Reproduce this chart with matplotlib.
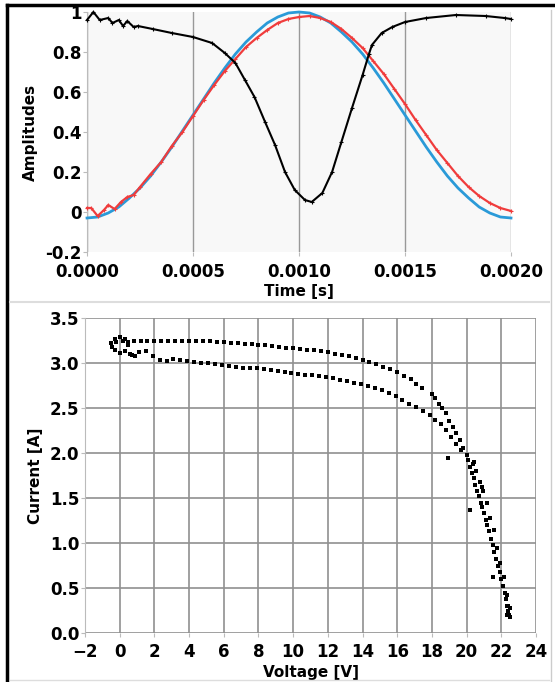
import matplotlib
matplotlib.use("Agg")
import matplotlib.pyplot as plt
from matplotlib.lines import Line2D

plt.rcParams['font.family'] = ['DejaVu Sans']
plt.rcParams['font.weight'] = 'bold'

# top panel: amplitudes vs time
t_fit = [0.0, 0.00005, 0.0001, 0.00015, 0.0002, 0.00025, 0.0003, 0.00035, 0.0004, 0.00045,
         0.0005, 0.00055, 0.0006, 0.00065, 0.0007, 0.00075, 0.0008, 0.00085, 0.0009, 0.00095,
         0.001, 0.00105, 0.0011, 0.00115, 0.0012, 0.00125, 0.0013, 0.00135, 0.0014, 0.00145,
         0.0015, 0.00155, 0.0016, 0.00165, 0.0017, 0.00175, 0.0018, 0.00185, 0.0019, 0.00195, 0.002]
blue = [-0.03, -0.025, -0.005, 0.025, 0.07, 0.12, 0.18, 0.25, 0.325, 0.405,
        0.485, 0.565, 0.645, 0.72, 0.79, 0.85, 0.90, 0.945, 0.975, 0.995,
        1.0, 0.995, 0.975, 0.945, 0.90, 0.85, 0.79, 0.72, 0.645, 0.565,
        0.485, 0.405, 0.325, 0.25, 0.18, 0.12, 0.07, 0.025, -0.005, -0.025, -0.03]

t_red = [0.0, 0.00002, 0.00005, 0.00008, 0.0001, 0.00013, 0.00016, 0.00019, 0.00022, 0.00025,
         0.0003, 0.00035, 0.0004, 0.00045, 0.0005, 0.00055, 0.0006, 0.00065, 0.0007, 0.00075,
         0.0008, 0.00085, 0.0009, 0.00095, 0.001, 0.00105, 0.0011, 0.00115, 0.0012, 0.00125,
         0.0013, 0.00135, 0.0014, 0.00145, 0.0015, 0.00155, 0.0016, 0.00165, 0.0017, 0.00175,
         0.0018, 0.00185, 0.0019, 0.00195, 0.002]
red = [0.02, 0.02, -0.02, 0.01, 0.035, 0.015, 0.05, 0.075, 0.085, 0.125,
       0.19, 0.25, 0.33, 0.40, 0.48, 0.56, 0.635, 0.705, 0.765, 0.825,
       0.87, 0.91, 0.945, 0.965, 0.975, 0.98, 0.97, 0.95, 0.915, 0.87,
       0.82, 0.755, 0.69, 0.615, 0.54, 0.46, 0.385, 0.31, 0.245, 0.18,
       0.125, 0.08, 0.045, 0.02, 0.005]

t_black = [0.0, 0.00003, 0.00006, 0.0001, 0.00012, 0.00015, 0.00017, 0.00019, 0.00022, 0.00024,
           0.00031, 0.0004, 0.0005, 0.00059, 0.00065, 0.0007, 0.000745, 0.00079, 0.00084, 0.000887,
           0.000934, 0.00098, 0.001028, 0.00106, 0.00111, 0.001156, 0.0012, 0.00125, 0.0013, 0.00133,
           0.001344, 0.00139, 0.00144, 0.0015, 0.0016, 0.00174, 0.00188, 0.00197, 0.002]
black = [0.96, 1.0, 0.96, 0.97, 0.945, 0.96, 0.93, 0.955, 0.925, 0.93,
         0.915, 0.895, 0.875, 0.845, 0.795, 0.745, 0.66, 0.575, 0.45, 0.335,
         0.2, 0.11, 0.06, 0.05, 0.095, 0.2, 0.35, 0.52, 0.685, 0.79,
         0.835, 0.895, 0.925, 0.95, 0.97, 0.985, 0.98, 0.97, 0.965]

# bottom panel: I-V scatter (hysteresis loop)
v_loop = [-0.5, -0.3, 0.0, 0.3, 0.45, 0.3, 0.0, -0.3, -0.45, 0.6, 0.9]
i_loop = [3.22, 3.27, 3.29, 3.27, 3.20, 3.13, 3.11, 3.14, 3.18, 3.10, 3.08]

v_up = [-0.2, 0.2, 0.5, 0.8, 1.2, 1.6, 2.0, 2.4, 2.8, 3.2, 3.6, 4.0, 4.4, 4.8, 5.2, 5.6,
        6.0, 6.4, 6.8, 7.2, 7.6, 8.0, 8.4, 8.8, 9.2, 9.6, 10.0, 10.4, 10.8, 11.2, 11.6,
        12.0, 12.4, 12.8, 13.2, 13.6, 14.0, 14.4, 14.8, 15.2, 15.6, 16.0, 16.4, 16.8,
        17.1, 17.4, 18.0, 18.2, 18.4, 18.6, 18.8, 19.0, 19.2, 19.4, 19.6, 19.8, 20.0]
i_up = [3.23, 3.24, 3.23, 3.24, 3.24, 3.25, 3.24, 3.25, 3.25, 3.24, 3.25, 3.25, 3.24,
        3.24, 3.24, 3.23, 3.23, 3.22, 3.22, 3.21, 3.21, 3.20, 3.20, 3.19, 3.18, 3.17,
        3.17, 3.16, 3.15, 3.14, 3.13, 3.12, 3.10, 3.09, 3.08, 3.06, 3.03, 3.01, 2.99,
        2.96, 2.93, 2.90, 2.86, 2.82, 2.77, 2.72, 2.66, 2.61, 2.55, 2.50, 2.44, 2.36,
        2.29, 2.22, 2.14, 2.06, 1.98]

v_low = [0.3, 0.7, 1.1, 1.5, 1.9, 2.3, 2.7, 3.1, 3.5, 3.9, 4.3, 4.7, 5.1, 5.5, 5.9, 6.3,
         6.7, 7.1, 7.5, 7.9, 8.3, 8.7, 9.1, 9.5, 9.9, 10.3, 10.7, 11.1, 11.5, 11.9, 12.3,
         12.7, 13.1, 13.5, 13.9, 14.3, 14.7, 15.1, 15.5, 15.9, 16.3, 16.7, 17.1, 17.5,
         17.9, 18.2, 18.5, 18.8, 19.1, 19.4, 19.7]
i_low = [3.13, 3.09, 3.12, 3.13, 3.08, 3.03, 3.02, 3.04, 3.03, 3.02, 3.01, 3.00, 3.00,
         2.99, 2.98, 2.97, 2.96, 2.95, 2.95, 2.94, 2.93, 2.92, 2.91, 2.90, 2.89, 2.88,
         2.87, 2.87, 2.86, 2.85, 2.83, 2.81, 2.80, 2.78, 2.77, 2.74, 2.72, 2.70, 2.67,
         2.63, 2.59, 2.55, 2.51, 2.47, 2.42, 2.37, 2.32, 2.26, 2.18, 2.10, 2.03]

v_drop = [20.1, 20.2, 20.3, 20.35, 20.4, 20.5, 20.55, 20.6, 20.7, 20.75, 20.8, 20.9, 20.95,
          21.0, 21.1, 21.15, 21.2, 21.3, 21.35, 21.4, 21.5, 21.55, 21.6, 21.7, 21.75, 21.8,
          21.9, 21.95, 22.0, 22.1, 22.15, 22.2, 22.25, 22.3, 22.35, 22.4, 22.45, 22.5, 22.3,
          22.4, 22.5, 18.9, 20.2, 20.9, 21.5, 20.4]
i_drop = [1.92, 1.85, 1.78, 1.88, 1.72, 1.65, 1.80, 1.58, 1.52, 1.68, 1.45, 1.40, 1.58,
          1.33, 1.26, 1.45, 1.20, 1.13, 1.28, 1.05, 0.98, 1.15, 0.90, 0.82, 0.95, 0.75,
          0.68, 0.78, 0.60, 0.52, 0.62, 0.45, 0.38, 0.30, 0.42, 0.25, 0.20, 0.18, 0.20,
          0.30, 0.28, 1.94, 1.37, 1.62, 0.62, 1.90]

fig = plt.figure(figsize=(5.55, 6.82), dpi=100)

ax1 = fig.add_axes([0.1568, 0.6305, 0.7639, 0.3519])
ax1.set_facecolor('#f8f8f8')
ax1.plot(t_fit, blue, color='#2a9ad8', lw=2, clip_on=False, zorder=3)
ax1.plot(t_red, red, color='#f03c3c', lw=1.6, marker='+', ms=3, mew=0.8,
         clip_on=False, zorder=4)
ax1.plot(t_black, black, color='black', lw=1.5, marker='+', ms=3, mew=0.8,
         clip_on=False, zorder=5)
ax1.set_xlim(0, 0.002)
ax1.set_ylim(-0.2, 1.0)
ax1.set_xticks([0.0, 0.0005, 0.001, 0.0015, 0.002])
ax1.set_xticklabels(['0.0000', '0.0005', '0.0010', '0.0015', '0.0020'])
ax1.set_yticks([-0.2, 0, 0.2, 0.4, 0.6, 0.8, 1.0])
ax1.set_yticklabels(['-0.2', '0', '0.2', '0.4', '0.6', '0.8', '1'])
ax1.grid(axis='x', color='#999999', lw=1)
ax1.set_axisbelow(True)
for s in ['top', 'right', 'bottom']:
    ax1.spines[s].set_visible(False)
ax1.spines['left'].set_color('#bbbbbb')
ax1.tick_params(colors='#bbbbbb', labelcolor='black', labelsize=12, length=3, pad=1)
ax1.tick_params(axis='x', pad=5)
ax1.set_xlabel('Time [s]', fontsize=11, fontweight='bold', labelpad=2)
ax1.set_ylabel('Amplitudes', fontsize=11, fontweight='bold', labelpad=5)

ax2 = fig.add_axes([0.1532, 0.0718, 0.8126, 0.4619])
ax2.plot(v_loop, i_loop, 's', color='black', ms=2.2, mew=0, zorder=3)
ax2.plot(v_up, i_up, 's', color='black', ms=2.2, mew=0, zorder=3)
ax2.plot(v_low, i_low, 's', color='black', ms=2.2, mew=0, zorder=3)
ax2.plot(v_drop, i_drop, 's', color='black', ms=2.2, mew=0, zorder=3)
ax2.set_xlim(-2, 24)
ax2.set_ylim(0, 3.5)
ax2.set_xticks(range(-2, 25, 2))
ax2.set_yticks([0.0, 0.5, 1.0, 1.5, 2.0, 2.5, 3.0, 3.5])
ax2.set_yticklabels(['0.0', '0.5', '1.0', '1.5', '2.0', '2.5', '3.0', '3.5'])
ax2.grid(color='#909090', lw=1.2)
ax2.set_axisbelow(True)
for s in ['top', 'right', 'bottom']:
    ax2.spines[s].set_visible(False)
ax2.spines['left'].set_color('#bbbbbb')
ax2.tick_params(colors='#bbbbbb', labelcolor='black', labelsize=12, length=3, pad=1)
ax2.tick_params(axis='x', pad=4)
ax2.set_xlabel('Voltage [V]', fontsize=11, fontweight='bold', labelpad=3)
ax2.set_ylabel('Current [A]', fontsize=11, fontweight='bold', labelpad=5)

# outer frame and separator
fig.add_artist(Line2D([0.0126, 0.0126], [0.0, 0.993], color='black', lw=2.5))
fig.add_artist(Line2D([0.0126, 1.0], [0.993, 0.993], color='black', lw=2.5))
fig.add_artist(Line2D([0.993, 0.993], [0.0, 0.985], color='#cccccc', lw=1))
fig.add_artist(Line2D([0.018, 0.99], [0.557, 0.557], color='#dddddd', lw=1.5))
fig.add_artist(Line2D([0.018, 0.99], [0.003, 0.003], color='#dddddd', lw=1))

fig.savefig('out.png', dpi=100)
